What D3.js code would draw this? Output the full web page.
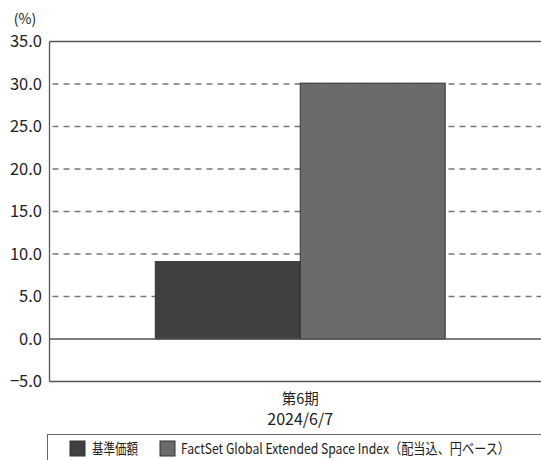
<!DOCTYPE html>
<html>
<head>
<meta charset="utf-8">
<script src="https://cdn.jsdelivr.net/npm/d3@7"></script>
<style>
  body { margin: 0; background: #fff; }
  svg { display: block; font-family: "Noto Sans CJK JP", "Noto Sans", sans-serif; }
</style>
</head>
<body>
<div id="chart"></div>
<script>
// data
var periods = ["第6期"];
var dates = ["2024/6/7"];
var seriesNames = ["基準価額", "FactSet Global Extended Space Index（配当込、円ベース）"];
var seriesValues = [9.1, 30.1];
var yTicks = [-5, 0, 5, 10, 15, 20, 25, 30, 35];
var colors = ["#404040", "#6b6b6b"];

var width = 541, height = 460;
var margin = { top: 41.5, left: 49.5, right: -10, bottom: 78.5 };

var svg = d3.select("#chart")
  .append("svg")
  .attr("width", width)
  .attr("height", height);

var x = d3.scaleBand()
  .domain(periods)
  .range([margin.left, width - margin.right])
  .paddingInner(0)
  .paddingOuter(0.365);

var xs = d3.scaleBand()
  .domain(seriesNames)
  .range([0, x.bandwidth()]);

var y = d3.scaleLinear()
  .domain([-5, 35])
  .range([height - margin.bottom, margin.top]);

// dashed grid lines
svg.append("g")
  .selectAll("line")
  .data(yTicks.filter(function(d) { return d > 0 && d < 35; }))
  .enter()
  .append("line")
  .attr("x1", margin.left)
  .attr("x2", width)
  .attr("y1", function(d) { return y(d); })
  .attr("y2", function(d) { return y(d); })
  .style("stroke", "#777")
  .style("stroke-width", 1.3)
  .style("stroke-dasharray", "6,5")
  .style("stroke-dashoffset", -3);

// bars
svg.append("g")
  .selectAll("rect")
  .data(seriesValues)
  .enter()
  .append("rect")
  .attr("x", function(d, i) { return x(periods[0]) + xs(seriesNames[i]); })
  .attr("y", function(d) { return y(d); })
  .attr("width", xs.bandwidth())
  .attr("height", function(d) { return y(0) - y(d); })
  .style("fill", function(d, i) { return colors[i]; })
  .style("stroke", "#333")
  .style("stroke-width", 1);

// frame lines: top, zero, bottom, left
[35, 0, -5].forEach(function(v) {
  svg.append("line")
    .attr("x1", margin.left).attr("x2", width)
    .attr("y1", y(v)).attr("y2", y(v))
    .style("stroke", "#555")
    .style("stroke-width", 1.3);
});
svg.append("line")
  .attr("x1", margin.left).attr("x2", margin.left)
  .attr("y1", y(35)).attr("y2", y(-5))
  .style("stroke", "#555")
  .style("stroke-width", 1.3);

// y tick labels
svg.append("g")
  .selectAll("text")
  .data(yTicks)
  .enter()
  .append("text")
  .attr("x", 42)
  .attr("y", function(d) { return y(d); })
  .attr("dy", "0.36em")
  .attr("text-anchor", "end")
  .style("font-size", "16.5px")
  .style("fill", "#222")
  .text(function(d) { return d3.format(".1f")(d); });

svg.append("text")
  .attr("x", 25)
  .attr("y", 24)
  .attr("text-anchor", "middle")
  .style("font-size", "14px")
  .style("fill", "#222")
  .text("(%)");

// x labels
var xc = x(periods[0]) + x.bandwidth() / 2;
svg.append("text")
  .attr("x", xc).attr("y", 404)
  .attr("text-anchor", "middle")
  .style("font-size", "14.5px")
  .style("fill", "#222")
  .text(periods[0]);
svg.append("text")
  .attr("x", xc).attr("y", 425)
  .attr("text-anchor", "middle")
  .style("font-size", "16px")
  .style("fill", "#222")
  .text(dates[0]);

// legend
svg.append("rect")
  .attr("x", 47.5).attr("y", 434.5)
  .attr("width", 520).attr("height", 40)
  .style("fill", "none")
  .style("stroke", "#666")
  .style("stroke-width", 1);

var legendX = [70, 160];
var legendTextLen = [46, 329];
var lg = svg.append("g")
  .selectAll("g")
  .data(seriesNames)
  .enter()
  .append("g")
  .attr("transform", function(d, i) { return "translate(" + legendX[i] + ",441)"; });
lg.append("rect")
  .attr("width", 15).attr("height", 15)
  .style("fill", function(d, i) { return colors[i]; })
  .style("stroke", "#333");
lg.append("text")
  .attr("x", function(d, i) { return i === 0 ? 22 : 21; })
  .attr("y", 12.5)
  .attr("textLength", function(d, i) { return legendTextLen[i]; })
  .attr("lengthAdjust", "spacingAndGlyphs")
  .style("font-size", "14.5px")
  .style("fill", "#222")
  .text(function(d) { return d; });
</script>
</body>
</html>
